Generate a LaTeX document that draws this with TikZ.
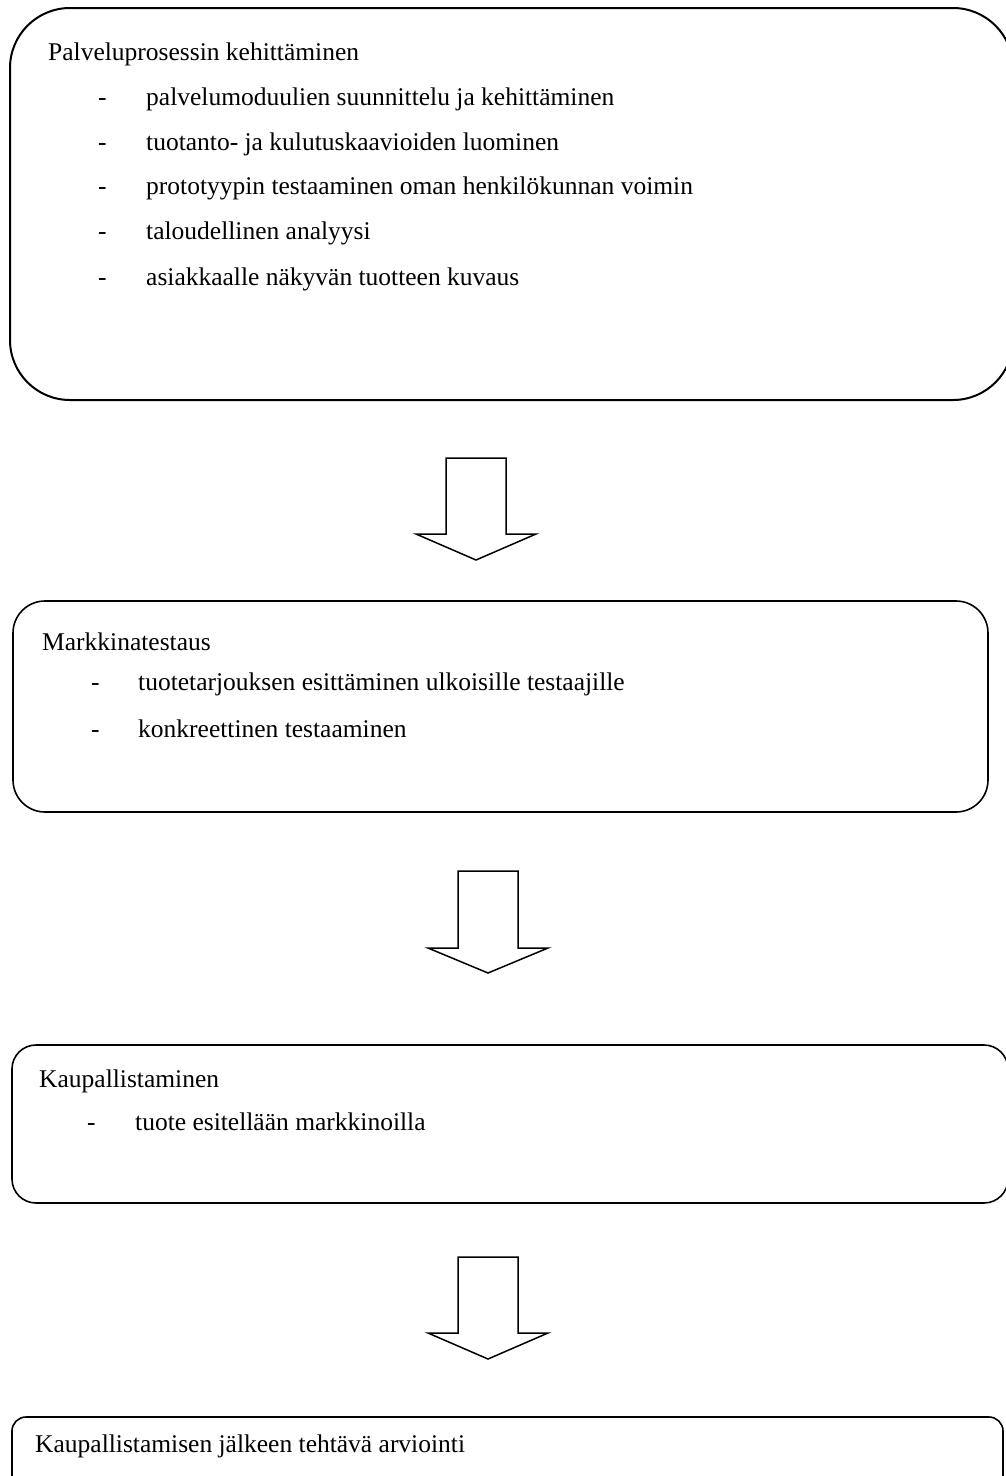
\documentclass[tikz,border=0pt]{standalone}
\usepackage{fontspec}
\setmainfont{Liberation Serif}
\begin{document}
\begin{tikzpicture}[x=1pt,y=-1pt,
  box/.style={draw=black, line width=1.6pt, fill=none, inner sep=0pt, rectangle},
  txt/.style={anchor=base west, inner sep=0pt, font=\fontsize{25.5}{30}\selectfont},
  blockarrow/.style={draw=black, line width=1.5pt, line join=miter, fill=white}]
\useasboundingbox (0,0) rectangle (1005,1476);
\fill[white] (0,0) rectangle (1005,1476);
% boxes
\node[box, line width=2pt, rounded corners=60pt, minimum width=1003pt, minimum height=392pt] (b1) at (511.5,204) {};
\node[box, rounded corners=32pt, minimum width=975pt, minimum height=211pt] (b2) at (500.5,706.5) {};
\node[box, rounded corners=24pt, minimum width=996pt, minimum height=158pt] (b3) at (510,1124) {};
\node[box, rounded corners=14pt, minimum width=991pt, minimum height=140pt] (b4) at (507.5,1487) {};
% box 1 text
\node[txt] (t1) at (48,60) {Palveluprosessin kehittäminen};
\node[txt] (d11) at (98,105) {-}; \node[txt] (i11) at (146,105) {palvelumoduulien suunnittelu ja kehittäminen};
\node[txt] (d12) at (98,150) {-}; \node[txt] (i12) at (146,150) {tuotanto- ja kulutuskaavioiden luominen};
\node[txt] (d13) at (98,194) {-}; \node[txt] (i13) at (146,194) {prototyypin testaaminen oman henkilökunnan voimin};
\node[txt] (d14) at (98,239) {-}; \node[txt] (i14) at (146,239) {taloudellinen analyysi};
\node[txt] (d15) at (98,285) {-}; \node[txt] (i15) at (146,285) {asiakkaalle näkyvän tuotteen kuvaus};
% box 2 text
\node[txt] (t2) at (42,650) {Markkinatestaus};
\node[txt] (d21) at (91,690) {-}; \node[txt] (i21) at (138,690) {tuotetarjouksen esittäminen ulkoisille testaajille};
\node[txt] (d22) at (91,737) {-}; \node[txt] (i22) at (138,737) {konkreettinen testaaminen};
% box 3 text
\node[txt] (t3) at (39,1087) {Kaupallistaminen};
\node[txt] (d31) at (87,1130) {-}; \node[txt] (i31) at (135,1130) {tuote esitellään markkinoilla};
% box 4 text
\node[txt] (t4) at (35,1452) {Kaupallistamisen jälkeen tehtävä arviointi};
% arrows
\coordinate (a1) at (476,560);
\coordinate (a2) at (488,973);
\coordinate (a3) at (488,1359);
\draw[blockarrow] (a1) -- ++(-60,-26) -- ++(30,0) -- ++(0,-76) -- ++(60,0) -- ++(0,76) -- ++(30,0) -- cycle;
\draw[blockarrow] (a2) -- ++(-60,-25) -- ++(30,0) -- ++(0,-77) -- ++(60,0) -- ++(0,77) -- ++(30,0) -- cycle;
\draw[blockarrow] (a3) -- ++(-60,-26) -- ++(30,0) -- ++(0,-76) -- ++(60,0) -- ++(0,76) -- ++(30,0) -- cycle;
\end{tikzpicture}
\end{document}
